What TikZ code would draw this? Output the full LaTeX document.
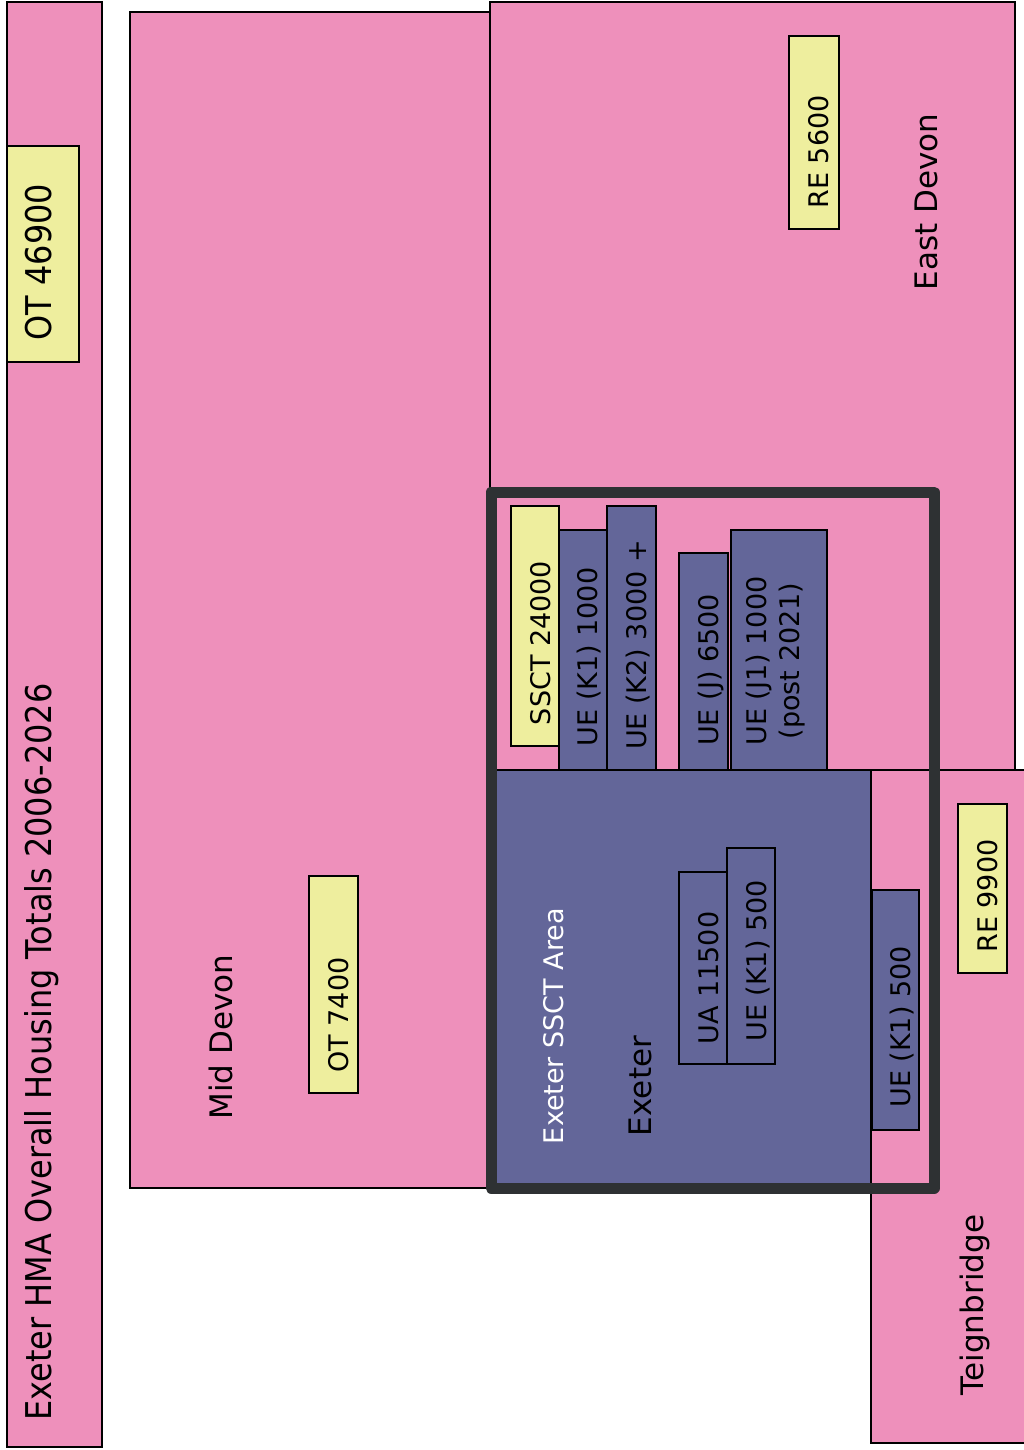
\documentclass[tikz,border=0pt]{standalone}
\usepackage{fontspec}
\setmainfont{DejaVu Sans}
\newfontfamily\condfont[FakeStretch=0.9]{DejaVu Sans}
\definecolor{pinkc}{HTML}{EE90BB}
\definecolor{yelc}{HTML}{EEEE9E}
\definecolor{bluec}{HTML}{636699}
\definecolor{framec}{HTML}{2E3133}
\tikzset{
  regionbox/.style={fill=pinkc,draw=black,line width=1.5pt},
  areabox/.style={fill=bluec,draw=black,line width=1.5pt},
  totbox/.style={fill=yelc,draw=black,line width=1.8pt},
  uebox/.style={fill=bluec,draw=black,line width=1.8pt},
  lab/.style={rotate=90,anchor=base,inner sep=0pt,font=\fontsize{27}{33}\selectfont},
  biglab/.style={rotate=90,anchor=base,inner sep=0pt,font=\fontsize{31}{37}\selectfont},
  condlab/.style={rotate=90,anchor=base,inner sep=0pt,font=\condfont\fontsize{35.5}{40}\selectfont}
}
\begin{document}
\begin{tikzpicture}[x=1pt,y=-1pt]
\useasboundingbox (0,0) rectangle (1024,1450);
\fill[white] (0,0) rectangle (1024,1450);
% regions
\draw[regionbox] (7,2) rectangle (102,1447);
\draw[regionbox] (130,12) rectangle (490,1188);
\draw[regionbox] (490,2) rectangle (1015,770);
\draw[regionbox] (871,770) rectangle (1030,1443);
\draw[areabox] (495,770) rectangle (871,1190);
% total boxes
\draw[totbox] (7,146) rectangle (79,362);
\draw[totbox] (309,876) rectangle (358,1093);
\draw[totbox] (789,36) rectangle (839,229);
\draw[totbox] (958,804) rectangle (1007,973);
\draw[totbox] (511,506) rectangle (559,746);
% UE boxes
\draw[uebox] (559,530) rectangle (607,770);
\draw[uebox] (607,506) rectangle (656,770);
\draw[uebox] (679,553) rectangle (728,770);
\draw[uebox] (731,530) rectangle (827,770);
\draw[uebox] (679,872) rectangle (727,1064);
\draw[uebox] (727,848) rectangle (775,1064);
\draw[uebox] (872,890) rectangle (919,1130);
% SSCT frame
\draw[framec,line width=11pt,line join=round] (491,492) rectangle (934,1188);
% texts
\node[condlab] (title) at (51,1052) {Exeter HMA Overall Housing Totals 2006-2026};
\node[condlab] (ot46900) at (51,262) {OT 46900};
\node[biglab] (middevon) at (232,1037) {Mid Devon};
\node[lab] (ot7400) at (348,1015) {OT 7400};
\node[biglab] (eastdevon) at (937,202) {East Devon};
\node[lab] (re5600) at (828,152) {RE 5600};
\node[biglab] (teign) at (983,1305) {Teignbridge};
\node[lab] (re9900) at (997,896) {RE 9900};
\node[lab,text=white] (sscta) at (563,1026) {Exeter SSCT Area};
\node[biglab] (exeter) at (651,1086) {Exeter};
\node[lab] (ua) at (718,978) {UA 11500};
\node[lab] (k1a) at (766,961) {UE (K1) 500};
\node[lab] (k1b) at (910,1027) {UE (K1) 500};
\node[lab] (ssct) at (550,643) {SSCT 24000};
\node[lab] (k1c) at (597,657) {UE (K1) 1000};
\node[lab] (k2) at (646,645) {UE (K2) 3000 +};
\node[lab] (j) at (718,670) {UE (J) 6500};
\node[lab,anchor=center,align=center] (j1) at (776,661) {UE (J1) 1000\\(post 2021)};
\end{tikzpicture}
\end{document}
